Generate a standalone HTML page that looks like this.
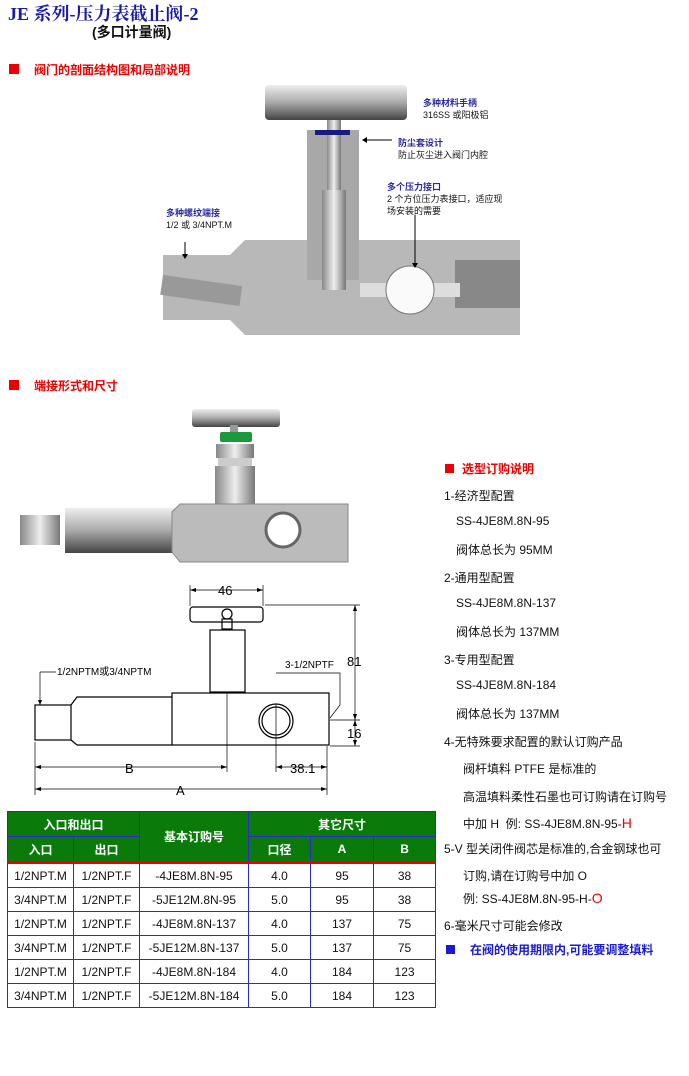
<!DOCTYPE html>
<html><head><meta charset="utf-8"><style>
body{margin:0;width:689px;height:1076px;background:#fff;position:relative;overflow:hidden;font-family:"Liberation Sans","Noto Sans CJK SC",sans-serif;}
.a{position:absolute;white-space:nowrap;}
.r{font-size:12px;color:#111;}
table{position:absolute;left:7px;top:811px;width:428px;table-layout:fixed;border-collapse:collapse;font-size:12px;}
td{border:1.5px solid #2a2ad0;text-align:center;padding:0;height:23px;color:#111;overflow:hidden;}
th{background:#0a7a0a;color:#fff;font-weight:bold;border:1px solid #2a2ad0;font-size:12px;height:24px;padding:0;}
</style></head><body>
<div class="a" style="left:8px;top:0px;font-size:18px;font-weight:bold;color:#1a1aa6;font-family:'Liberation Serif','Noto Serif CJK SC',serif;">JE 系列-压力表截止阀-2</div>
<div class="a" style="left:92px;top:22px;font-size:14px;font-weight:bold;color:#111;">(多口计量阀)</div>
<div class="a" style="left:9px;top:64px;width:10px;height:10px;background:#e00;"></div>
<div class="a" style="left:34px;top:61px;font-size:12px;font-weight:bold;color:#e00;">阀门的剖面结构图和局部说明</div>

<svg class="a" style="left:0;top:0" width="689" height="1076">
<defs>
<linearGradient id="g1" x1="0" y1="0" x2="0" y2="1"><stop offset="0" stop-color="#eee"/><stop offset="0.5" stop-color="#aaa"/><stop offset="1" stop-color="#444"/></linearGradient>
<linearGradient id="g2" x1="0" y1="0" x2="1" y2="0"><stop offset="0" stop-color="#888"/><stop offset="0.5" stop-color="#eee"/><stop offset="1" stop-color="#777"/></linearGradient>
</defs>
<path d="M163 255 L230 255 L245 240 L520 240 L520 335 L245 335 L230 320 L163 320 Z" fill="#b8b8b8"/>
<rect x="163" y="275" width="80" height="20" fill="#999" transform="rotate(8 163 275)"/>
<rect x="455" y="260" width="65" height="48" fill="#888"/>
<rect x="360" y="283" width="100" height="14" fill="#ddd"/>
<rect x="307" y="130" width="52" height="150" fill="#a8a8a8"/>
<rect x="327" y="110" width="14" height="80" fill="url(#g2)"/>
<rect x="322" y="190" width="24" height="100" fill="url(#g2)"/>
<rect x="265" y="85" width="142" height="35" rx="4" fill="url(#g1)"/>
<path d="M315 130 h35 v5 h-35z" fill="#1a1a80"/>
<circle cx="410" cy="290" r="24" fill="#fafafa" stroke="#777"/>
<line x1="185" y1="242" x2="185" y2="256" stroke="#000"/>
<path d="M182 254 l3 5 3-5z"/>
<line x1="415" y1="215" x2="415" y2="265" stroke="#000"/>
<path d="M412 263 l3 5 3-5z"/>
<line x1="367" y1="140" x2="392" y2="140" stroke="#000"/>
<path d="M367 137 l-5 3 5 3z"/>
<rect x="192" y="409" width="88" height="18" rx="3" fill="url(#g1)"/>
<rect x="230" y="425" width="8" height="10" fill="#999"/>
<rect x="220" y="432" width="32" height="10" rx="2" fill="#1a9a3a"/>
<rect x="216" y="444" width="38" height="14" fill="url(#g2)"/>
<rect x="218" y="458" width="34" height="8" fill="#ccc"/>
<rect x="215" y="466" width="40" height="38" fill="url(#g2)"/>
<rect x="20" y="515" width="40" height="30" fill="url(#g2)"/>
<rect x="65" y="508" width="110" height="45" fill="url(#g1)"/>
<path d="M180 504 L348 504 L348 562 L180 562 L172 552 L172 512 Z" fill="#bbb" stroke="#888"/>
<circle cx="283" cy="530" r="17" fill="#fff" stroke="#666" stroke-width="3"/>
<g stroke="#000" fill="none" stroke-width="1.2">
<rect x="190" y="607" width="73" height="15" rx="3"/>
<circle cx="227" cy="614" r="5"/>
<rect x="222" y="619" width="10" height="10"/>
<rect x="210" y="630" width="35" height="62"/>
<rect x="35" y="705" width="36" height="35"/>
<path d="M71 705 L77 697 L172 697 M77 745 L71 740 M77 745 L172 745"/>
<rect x="172" y="693" width="157" height="52"/>
<circle cx="276" cy="721" r="17"/>
<circle cx="276" cy="721" r="14"/>
</g>
<g stroke="#000" stroke-width="0.7" fill="none">
<line x1="190" y1="585" x2="190" y2="606"/><line x1="263" y1="585" x2="263" y2="606"/>
<line x1="190" y1="590" x2="263" y2="590"/>
<line x1="265" y1="605" x2="360" y2="605"/><line x1="330" y1="720" x2="360" y2="720"/><line x1="330" y1="746" x2="360" y2="746"/>
<line x1="355" y1="605" x2="355" y2="746"/>
<line x1="35" y1="742" x2="35" y2="795"/><line x1="227" y1="692" x2="227" y2="772"/>
<line x1="276" y1="704" x2="276" y2="772"/><line x1="327" y1="746" x2="327" y2="795"/>
<line x1="35" y1="767" x2="227" y2="767"/><line x1="276" y1="767" x2="327" y2="767"/>
<line x1="35" y1="789" x2="327" y2="789"/>
<path d="M40 672 L40 705 M40 672 L56 672"/>
<path d="M276 673 L340 673 L340 705 L330 718"/>
</g>
<g fill="#000">
<path d="M190 590 l6-2v4z M263 590 l-6-2v4z M35 767 l6-2v4z M227 767 l-6-2v4z M276 767 l6-2v4z M327 767 l-6-2v4z M35 789 l6-2v4z M327 789 l-6-2v4z M355 605 l-2 6h4z M355 720 l-2 -6h4z M355 720 l-2 6h4z M355 746 l-2-6h4z M40 705 l-2-5h4z"/>
</g>
<text x="218" y="595" font-size="13" font-family="Liberation Sans">46</text>
<text x="347" y="666" font-size="13" font-family="Liberation Sans">81</text>
<text x="347" y="738" font-size="13" font-family="Liberation Sans">16</text>
<text x="125" y="773" font-size="13" font-family="Liberation Sans">B</text>
<text x="290" y="773" font-size="13" font-family="Liberation Sans">38.1</text>
<text x="176" y="795" font-size="13" font-family="Liberation Sans">A</text>
<text x="57" y="675" font-size="10" font-family="Liberation Sans">1/2NPTM或3/4NPTM</text>
<text x="285" y="668" font-size="10" font-family="Liberation Sans">3-1/2NPTF</text>
</svg>

<div class="a" style="left:423px;top:96px;font-size:9px;font-weight:bold;color:#2a2aa0;">多种材料手柄</div>
<div class="a" style="left:423px;top:108px;font-size:9px;color:#111;">316SS 或阳极铝</div>
<div class="a" style="left:398px;top:136px;font-size:9px;font-weight:bold;color:#2a2aa0;">防尘套设计</div>
<div class="a" style="left:398px;top:148px;font-size:9px;color:#111;">防止灰尘进入阀门内腔</div>
<div class="a" style="left:387px;top:180px;font-size:9px;font-weight:bold;color:#2a2aa0;">多个压力接口</div>
<div class="a" style="left:387px;top:192px;font-size:9px;color:#111;">2 个方位压力表接口，适应现</div>
<div class="a" style="left:387px;top:204px;font-size:9px;color:#111;">场安装的需要</div>
<div class="a" style="left:166px;top:206px;font-size:9px;font-weight:bold;color:#2a2aa0;">多种螺纹端接</div>
<div class="a" style="left:166px;top:218px;font-size:9px;color:#111;">1/2 或 3/4NPT.M</div>

<div class="a" style="left:9px;top:380px;width:10px;height:10px;background:#e00;"></div>
<div class="a" style="left:34px;top:377px;font-size:12px;font-weight:bold;color:#e00;">端接形式和尺寸</div>

<div class="a" style="left:445px;top:464px;width:9px;height:9px;background:#e00;"></div>
<div class="a" style="left:462px;top:460px;font-size:12px;font-weight:bold;color:#e00;">选型订购说明</div>
<div class="a r" style="left:444px;top:487px;">1-经济型配置</div>
<div class="a r" style="left:456px;top:514px;">SS-4JE8M.8N-95</div>
<div class="a r" style="left:456px;top:541px;">阀体总长为 95MM</div>
<div class="a r" style="left:444px;top:569px;">2-通用型配置</div>
<div class="a r" style="left:456px;top:596px;">SS-4JE8M.8N-137</div>
<div class="a r" style="left:456px;top:623px;">阀体总长为 137MM</div>
<div class="a r" style="left:444px;top:651px;">3-专用型配置</div>
<div class="a r" style="left:456px;top:678px;">SS-4JE8M.8N-184</div>
<div class="a r" style="left:456px;top:705px;">阀体总长为 137MM</div>
<div class="a r" style="left:444px;top:733px;">4-无特殊要求配置的默认订购产品</div>
<div class="a r" style="left:463px;top:760px;">阀杆填料 PTFE 是标准的</div>
<div class="a r" style="left:463px;top:788px;">高温填料柔性石墨也可订购请在订购号</div>
<div class="a r" style="left:463px;top:815px;">中加 H &nbsp;例: SS-4JE8M.8N-95-<span style="color:#e00;font-size:14px;">H</span></div>
<div class="a r" style="left:444px;top:840px;">5-V 型关闭件阀芯是标准的,合金钢球也可</div>
<div class="a r" style="left:463px;top:867px;">订购,请在订购号中加 O</div>
<div class="a r" style="left:463px;top:890px;">例: SS-4JE8M.8N-95-H-<span style="color:#e00;font-size:14px;">O</span></div>
<div class="a r" style="left:444px;top:917px;">6-毫米尺寸可能会修改</div>
<div class="a" style="left:446px;top:945px;width:9px;height:9px;background:#1a1ad0;"></div>
<div class="a" style="left:470px;top:941px;font-size:12px;font-weight:bold;color:#1a1ad0;">在阀的使用期限内,可能要调整填料</div>

<table>
<colgroup><col style="width:66px"><col style="width:66px"><col style="width:109px"><col style="width:62px"><col style="width:63px"><col style="width:62px"></colgroup>
<tr><th colspan="2">入口和出口</th><th rowspan="2">基本订购号</th><th colspan="3">其它尺寸</th></tr>
<tr style="border-bottom:3px solid #e00"><th>入口</th><th>出口</th><th>口径</th><th>A</th><th>B</th></tr>
<tr><td>1/2NPT.M</td><td>1/2NPT.F</td><td>-4JE8M.8N-95</td><td>4.0</td><td>95</td><td>38</td></tr>
<tr><td>3/4NPT.M</td><td>1/2NPT.F</td><td>-5JE12M.8N-95</td><td>5.0</td><td>95</td><td>38</td></tr>
<tr><td>1/2NPT.M</td><td>1/2NPT.F</td><td>-4JE8M.8N-137</td><td>4.0</td><td>137</td><td>75</td></tr>
<tr><td>3/4NPT.M</td><td>1/2NPT.F</td><td>-5JE12M.8N-137</td><td>5.0</td><td>137</td><td>75</td></tr>
<tr><td>1/2NPT.M</td><td>1/2NPT.F</td><td>-4JE8M.8N-184</td><td>4.0</td><td>184</td><td>123</td></tr>
<tr><td>3/4NPT.M</td><td>1/2NPT.F</td><td>-5JE12M.8N-184</td><td>5.0</td><td>184</td><td>123</td></tr>
</table>
</body></html>
